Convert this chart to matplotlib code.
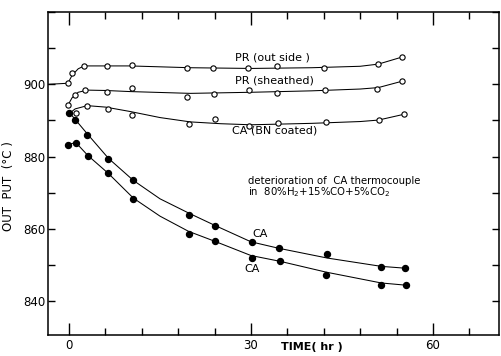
import matplotlib
matplotlib.use("Agg")
import matplotlib.pyplot as plt
from matplotlib.ticker import MultipleLocator

# measured points (time in hr, output in degC)
pr_out_t = [-0.2, 0.55, 2.5, 6.2, 10.3, 19.4, 23.8, 29.5, 34.3, 42.0, 50.9, 54.9]
pr_out_v = [900.5, 903.1, 905.2, 905.0, 905.3, 904.6, 904.4, 904.4, 905.1, 904.6, 905.6, 907.6]

pr_sh_t = [-0.2, 0.9, 2.7, 6.2, 10.3, 19.4, 23.9, 29.7, 34.3, 42.2, 50.7, 54.9]
pr_sh_v = [894.2, 897.1, 898.3, 897.9, 899.1, 896.5, 897.4, 898.3, 897.7, 898.5, 898.8, 900.9]

ca_bn_t = [1.15, 3.0, 6.4, 10.4, 19.7, 24.1, 29.7, 34.4, 42.3, 51.1, 55.2]
ca_bn_v = [892.0, 894.1, 893.1, 891.4, 889.1, 890.4, 888.5, 889.4, 889.5, 890.0, 891.7]

ca_up_t = [0.05, 1.0, 2.9, 6.5, 10.6, 19.8, 24.1, 30.1, 34.6, 42.6, 51.5, 55.4]
ca_up_v = [892.1, 890.2, 886.1, 879.2, 873.6, 863.8, 860.8, 856.4, 854.6, 853.1, 849.3, 849.1]

ca_lo_t = [-0.2, 1.15, 3.1, 6.5, 10.6, 19.7, 24.1, 30.1, 34.8, 42.4, 51.5, 55.5]
ca_lo_v = [883.2, 883.8, 880.1, 875.5, 868.2, 858.7, 856.7, 851.9, 851.1, 847.1, 844.4, 844.4]

# hand-drawn fitted curves
pr_out_ct = [-3.5, -0.2, 0.5, 1.5, 2.5, 6, 10, 20, 30, 40, 48, 51, 55]
pr_out_cv = [900.0, 900.3, 902.5, 904.3, 905.1, 905.1, 905.1, 904.6, 904.4, 904.6, 905.0, 905.6, 907.6]

pr_sh_ct = [-0.2, 0.5, 1.5, 3, 6, 10, 20, 30, 40, 48, 51, 55]
pr_sh_cv = [894.2, 896.3, 897.8, 898.4, 898.3, 898.0, 897.5, 897.8, 898.2, 898.7, 899.1, 900.9]

ca_bn_ct = [0.1, 1, 3, 6, 10, 15, 20, 25, 30, 40, 48, 51, 55.2]
ca_bn_cv = [892.0, 893.2, 894.1, 893.7, 892.5, 890.8, 889.6, 889.1, 888.8, 889.2, 889.7, 890.1, 891.7]

ca_up_ct = [0.05, 1, 3, 6.5, 10.6, 15, 19.8, 24.1, 30, 34.6, 42.6, 51.5, 55.4]
ca_up_cv = [892.2, 890.3, 886.3, 879.5, 873.4, 868.3, 864.3, 860.9, 856.4, 854.6, 851.9, 849.6, 849.1]

ca_lo_ct = [-0.2, 1.1, 3.1, 6.5, 10.6, 15, 19.7, 24.1, 30, 34.8, 42.4, 51.5, 55.5]
ca_lo_cv = [883.3, 883.9, 880.3, 875.3, 868.5, 863.5, 859.3, 856.5, 852.6, 851.0, 848.0, 845.0, 844.4]

fig = plt.figure(figsize=(5.01, 3.56), dpi=100)
ax = fig.add_axes([0.096, 0.059, 0.9, 0.907])

lw = 0.75
for ct, cv in [(pr_out_ct, pr_out_cv), (pr_sh_ct, pr_sh_cv), (ca_bn_ct, ca_bn_cv),
               (ca_up_ct, ca_up_cv), (ca_lo_ct, ca_lo_cv)]:
    ax.plot(ct, cv, color="black", lw=lw, zorder=2)

for t, v in [(pr_out_t, pr_out_v), (pr_sh_t, pr_sh_v), (ca_bn_t, ca_bn_v)]:
    ax.plot(t, v, "o", ms=3.8, mfc="white", mec="black", mew=0.8, zorder=3)

for t, v in [(ca_up_t, ca_up_v), (ca_lo_t, ca_lo_v)]:
    ax.plot(t, v, "o", ms=4.3, color="black", zorder=3)

ax.set_xlim(-3.46, 70.9)
ax.set_ylim(830.6, 920)

ax.xaxis.set_major_locator(MultipleLocator(30))
ax.xaxis.set_minor_locator(MultipleLocator(6))
ax.yaxis.set_minor_locator(MultipleLocator(10))
ax.set_yticks([840, 860, 880, 900])
ax.tick_params(axis="x", which="major", direction="in", length=9, width=1.0,
               top=True, labelsize=8.5, pad=3)
ax.tick_params(axis="x", which="minor", direction="in", length=5, width=1.0, top=True)
ax.tick_params(axis="y", which="both", direction="in", length=5, width=1.0,
               right=True, labelsize=8.5, pad=2)
for s in ax.spines.values():
    s.set_linewidth(1.1)

ax.set_xlabel("TIME( hr )", fontsize=8, fontweight="bold")
ax.xaxis.set_label_coords(0.585, -0.022)
ax.set_ylabel("OUT  PUT  (°C )", fontsize=8.5)
ax.yaxis.set_label_coords(-0.073, 0.46)

fs = 8
ax.text(27.4, 907.5, "PR (out side )", fontsize=fs, va="center")
ax.text(27.4, 901.1, "PR (sheathed)", fontsize=fs, va="center")
ax.text(26.9, 887.2, "CA (BN coated)", fontsize=fs, va="center")
ax.text(29.5, 872.5, "deterioration of  CA thermocouple", fontsize=7.3, va="baseline")
ax.text(29.5, 869.2, "in  80%H$_2$+15%CO+5%CO$_2$", fontsize=7.3, va="baseline")
ax.text(31.5, 858.6, "CA", fontsize=fs, ha="center", va="center")
ax.text(30.2, 848.9, "CA", fontsize=fs, ha="center", va="center")

fig.savefig("out.png", dpi=100)
